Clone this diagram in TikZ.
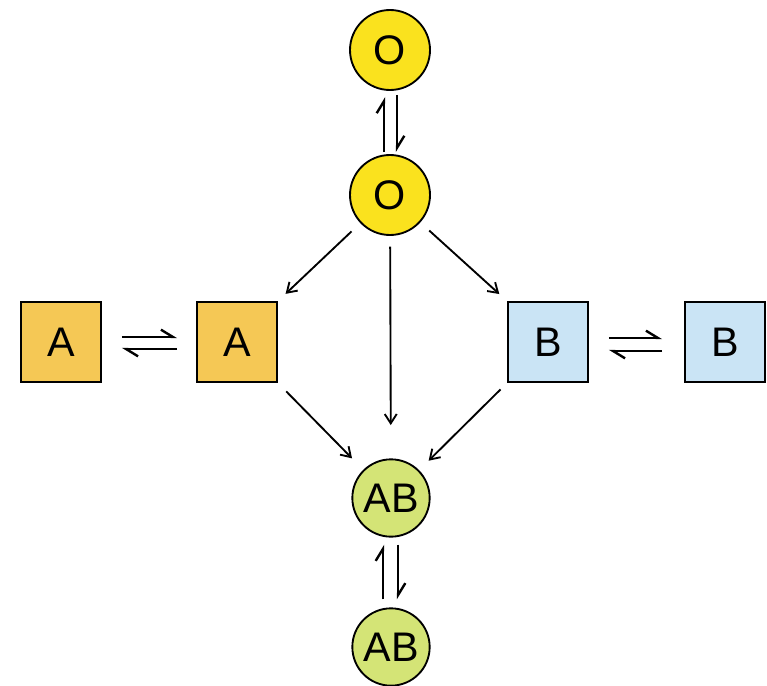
\documentclass[tikz,border=0pt]{standalone}
\usepackage{fontspec}
\setmainfont{Liberation Sans}
\usetikzlibrary{arrows.meta,calc}
\definecolor{oyel}{RGB}{250,226,30}
\definecolor{aorg}{RGB}{245,200,85}
\definecolor{bblue}{RGB}{202,228,245}
\definecolor{abgrn}{RGB}{212,228,118}
\tikzset{
  circ/.style={circle,draw=black,line width=1.4pt,minimum size=60pt,inner sep=0pt,font=\fontsize{31}{32}\selectfont},
  sq/.style={rectangle,draw=black,line width=1.2pt,minimum size=60pt,inner sep=0pt,font=\fontsize{31}{32}\selectfont},
  arr/.style={line width=1.4pt,-{Straight Barb[length=7pt,width=9pt]}},
  harp/.style={line width=1.8pt,-{Straight Barb[harpoon,length=9pt,width=11pt]}}
}
\begin{document}
\begin{tikzpicture}[x=0.75pt,y=-0.75pt]
\useasboundingbox (0,0) rectangle (767,685);
\node[circ,fill=oyel] (O1) at (390,50) {O};
\node[circ,fill=oyel] (O2) at (390,195) {O};
\node[sq,fill=aorg] (A1) at (61,342) {A};
\node[sq,fill=aorg] (A2) at (237,342) {A};
\node[sq,fill=bblue] (B1) at (548,342) {B};
\node[sq,fill=bblue] (B2) at (725,342) {B};
\node[circ,fill=abgrn,minimum size=58pt] (AB1) at (391,498) {AB};
\node[circ,fill=abgrn,minimum size=58pt] (AB2) at (391,647) {AB};
% equilibrium harpoons
\draw[harp] ($(O2.north)+(-6,-2)$) -- ($(O1.south)+(-6,6)$);
\draw[harp] ($(O1.south)+(7,4)$) -- ($(O2.north)+(7,-2)$);
\draw[harp] ($(A1.east)+(20,-5)$) -- ($(A2.west)+(-19,-5)$);
\draw[harp] ($(A2.west)+(-19,7)$) -- ($(A1.east)+(20,7)$);
\draw[harp] ($(B1.east)+(20,-4)$) -- ($(B2.west)+(-22,-4)$);
\draw[harp] ($(B2.west)+(-22,9)$) -- ($(B1.east)+(20,9)$);
\draw[harp] ($(AB2.north)+(-8,-8)$) -- ($(AB1.south)+(-8,7)$);
\draw[harp] ($(AB1.south)+(7,7)$) -- ($(AB2.north)+(7,-8)$);
% reaction arrows
\draw[arr,shorten <=9pt,shorten >=8pt] (O2) -- (A2.north east);
\draw[arr,shorten <=9pt,shorten >=8pt] (O2) -- (B1.north west);
\draw[arr,shorten <=8pt,shorten >=25pt] (O2) -- (AB1);
\draw[arr,shorten <=9pt,shorten >=12pt] (A2.south east) -- (AB1);
\draw[arr,shorten <=7pt,shorten >=10pt] (B1.south west) -- (AB1);
\end{tikzpicture}
\end{document}
